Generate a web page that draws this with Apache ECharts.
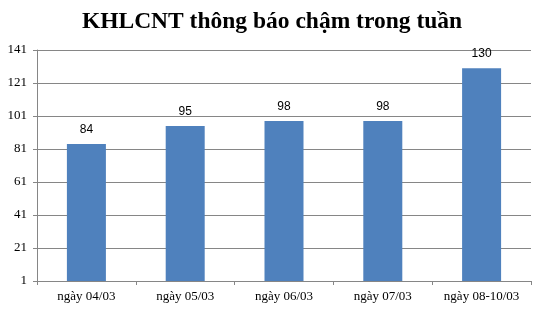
<!DOCTYPE html>
<html><head><meta charset="utf-8">
<script src="https://cdn.jsdelivr.net/npm/echarts@6/dist/echarts.min.js"></script>
<style>html,body{margin:0;padding:0;background:#fff}#c{width:544px;height:312px}</style>
</head><body><div id="c"></div>
<script>
var title = 'KHLCNT thông báo chậm trong tuần';
var categories = ['ngày 04/03', 'ngày 05/03', 'ngày 06/03', 'ngày 07/03', 'ngày 08-10/03'];
var values = [84, 95, 98, 98, 130];
var yMin = 1, yMax = 141, yStep = 20;

var chart = echarts.init(document.getElementById('c'), null, {renderer: 'canvas'});
chart.setOption({
  animation: false,
  backgroundColor: '#ffffff',
  title: {
    text: title, left: 'center', top: 5,
    textStyle: {fontFamily: 'Liberation Serif', fontWeight: 'bold', fontSize: 23.5, color: '#000'}
  },
  grid: {left: 37, right: 13, top: 50, bottom: 31, containLabel: false},
  xAxis: {
    type: 'category', data: categories,
    axisLine: {lineStyle: {color: '#868686', width: 1}},
    axisTick: {show: true, length: 4, lineStyle: {color: '#868686'}},
    axisLabel: {fontFamily: 'Liberation Serif', fontSize: 13, color: '#000', margin: 9}
  },
  yAxis: {
    type: 'value', min: yMin, max: yMax, interval: yStep,
    axisLine: {show: true, lineStyle: {color: '#868686', width: 1}},
    axisTick: {show: true, length: 4, lineStyle: {color: '#868686'}},
    splitLine: {show: true, lineStyle: {color: '#868686', width: 1}},
    axisLabel: {fontFamily: 'Liberation Serif', fontSize: 13, color: '#000', margin: 10}
  },
  series: [{
    type: 'bar', data: values, barWidth: 39,
    itemStyle: {color: '#4F81BD'},
    label: {show: true, position: 'top', distance: 8, fontFamily: 'Liberation Sans', fontSize: 12, color: '#000'}
  }]
});
</script></body></html>
